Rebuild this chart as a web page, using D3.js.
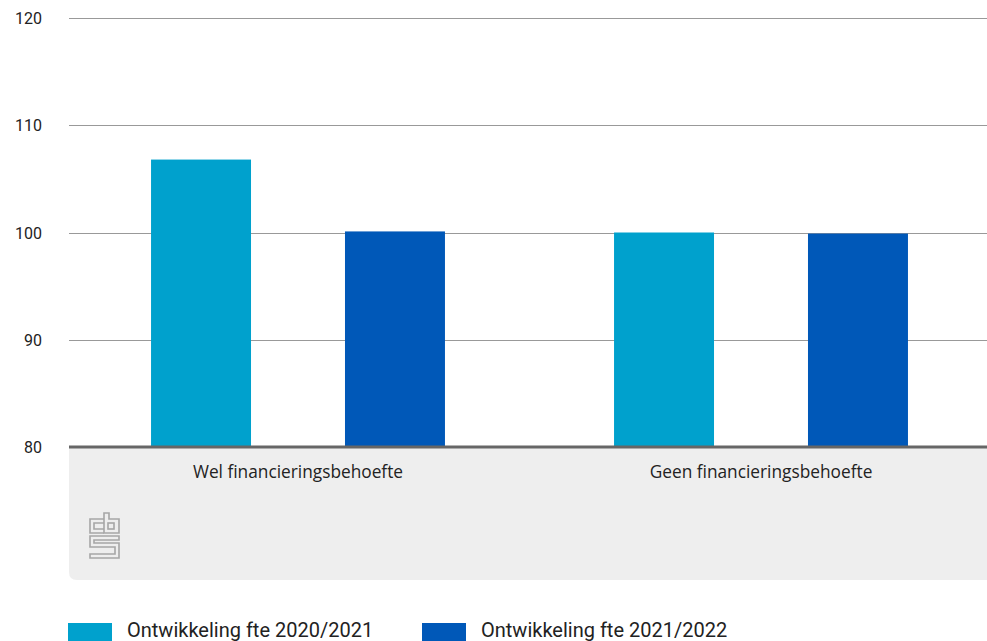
<!DOCTYPE html>
<html>
<head>
<meta charset="utf-8">
<script src="https://cdn.jsdelivr.net/npm/d3@7"></script>
<style>
  html, body { margin: 0; padding: 0; background: #fff; overflow: hidden; }
  svg { display: block; font-family: "Open Sans", Roboto, sans-serif; }
</style>
</head>
<body>
<div id="chart"></div>
<script>
// Chart data
const categories = ['Wel financieringsbehoefte', 'Geen financieringsbehoefte'];
const seriesNames = ['Ontwikkeling fte 2020/2021', 'Ontwikkeling fte 2021/2022'];
const series2020 = [106.8, 100.0];   // light blue
const series2021 = [100.1, 99.9];    // dark blue
const yTicks = [80, 90, 100, 110, 120];
const seriesColors = ['#00a1cd', '#0058b8'];

const width = 987, height = 641;
const margin = { top: 18, right: -8, left: 69 };
const plotBottom = 447;
const panelBottom = 580;

const svg = d3.select('#chart').append('svg')
  .attr('width', width)
  .attr('height', height);

const y = d3.scaleLinear()
  .domain([80, 120])
  .range([plotBottom, margin.top]);

const x0 = d3.scaleBand()
  .domain(categories)
  .range([margin.left, width - margin.right]);

const x1 = d3.scaleBand()
  .domain(seriesNames)
  .range([0, x0.bandwidth() - 5])
  .paddingInner(0.4845)
  .paddingOuter(0.423);

// grey panel under the axis (category labels + logo)
const r = 8;
const pl = margin.left, pr = width + 10;
svg.append('path')
  .attr('d', `M${pl},${plotBottom} H${pr} V${panelBottom} H${pl + r} Q${pl},${panelBottom} ${pl},${panelBottom - r} Z`)
  .attr('fill', '#eeeeee');

// gridlines
svg.append('g')
  .selectAll('line')
  .data(yTicks.filter(t => t !== 80))
  .join('line')
  .attr('x1', margin.left).attr('x2', width)
  .attr('y1', d => Math.round(y(d)) + 0.5)
  .attr('y2', d => Math.round(y(d)) + 0.5)
  .attr('stroke', '#999')
  .attr('stroke-width', 1);

// y labels
svg.append('g')
  .selectAll('text')
  .data(yTicks)
  .join('text')
  .attr('x', 42)
  .attr('y', d => y(d) + 6)
  .attr('text-anchor', 'end')
  .style('font-family', 'Roboto, sans-serif')
  .style('font-size', '16px')
  .style('fill', '#222')
  .text(d => d);

// bars
const rows = categories.map((c, i) => ({ cat: c, values: [series2020[i], series2021[i]] }));
svg.append('g')
  .selectAll('g')
  .data(rows)
  .join('g')
  .attr('transform', d => `translate(${x0(d.cat)},0)`)
  .selectAll('rect')
  .data(d => d.values.map((v, i) => ({ key: seriesNames[i], value: v, color: seriesColors[i] })))
  .join('rect')
  .attr('x', d => x1(d.key))
  .attr('width', x1.bandwidth())
  .attr('y', d => y(d.value))
  .attr('height', d => plotBottom - y(d.value))
  .attr('fill', d => d.color);

// baseline
svg.append('line')
  .attr('x1', margin.left).attr('x2', width)
  .attr('y1', plotBottom).attr('y2', plotBottom)
  .attr('stroke', '#666')
  .attr('stroke-width', 3);

// category labels
svg.append('g')
  .selectAll('text')
  .data(categories)
  .join('text')
  .attr('x', d => x0(d) + (x0.bandwidth() - 5) / 2)
  .attr('y', 478)
  .attr('text-anchor', 'middle')
  .style('font-size', '17.3px')
  .style('fill', '#222')
  .text(d => d);

// cbs logo (simplified outline)
const logo = svg.append('g')
  .attr('transform', 'translate(89,512)')
  .attr('fill', 'none')
  .attr('stroke', '#a6a6a6')
  .attr('stroke-width', 1.6);
logo.append('path').attr('d', 'M15,7 H1 V21 H15 M15,11 H5 V17 H15');
logo.append('path').attr('d', 'M15,21 V1 H20 V7 H30 V21 Z');
logo.append('rect').attr('x', 19).attr('y', 11).attr('width', 6).attr('height', 6);
logo.append('path').attr('d', 'M30,24 H1 V35 H26 V42 H1 V46 H30 V31 H5 V28 H30 Z');

// legend
const legend = svg.append('g')
  .selectAll('g')
  .data(seriesNames)
  .join('g')
  .attr('transform', (d, i) => `translate(${i === 0 ? 68 : 422},623)`);
legend.append('rect')
  .attr('width', 44).attr('height', 18)
  .attr('fill', (d, i) => seriesColors[i]);
legend.append('text')
  .attr('x', 59)
  .attr('y', 14)
  .style('font-family', 'Roboto, sans-serif')
  .style('font-size', '20px')
  .style('fill', '#222')
  .text(d => d);
</script>
</body>
</html>
